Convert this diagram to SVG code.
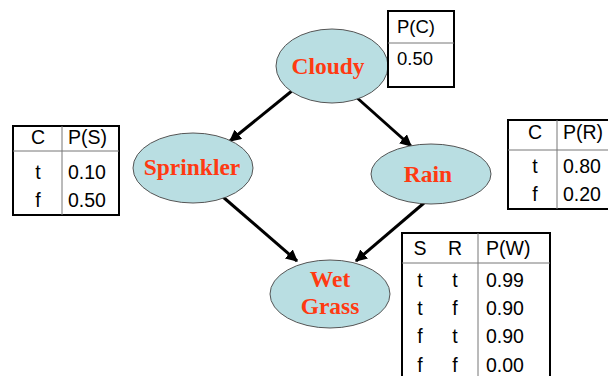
<svg xmlns="http://www.w3.org/2000/svg" width="608" height="376" viewBox="0 0 608 376">
<defs>
<marker id="ah" viewBox="0 0 10 10" refX="9" refY="5" markerWidth="4" markerHeight="4" orient="auto" markerUnits="strokeWidth">
<path d="M0,0 L10,5 L0,10 z" fill="#000"/>
</marker>
<style>
.node ellipse{fill:#B9DEE2;stroke:#555;stroke-width:1}
.node text{font-family:"Liberation Serif",serif;font-weight:bold;font-size:23.5px;fill:#FF3A12;text-anchor:middle}
.edge{stroke:#000;stroke-width:3;fill:none;marker-end:url(#ah)}
.tbl .outer{fill:#fff;stroke:#000;stroke-width:2}
.tbl line{stroke:#777;stroke-width:1}
.tbl text{font-family:"Liberation Sans",Arial,sans-serif;font-size:19.5px;fill:#000}
#table-pc text{font-size:18.5px}
.c{text-anchor:middle}
</style>
</defs>
<rect width="608" height="376" fill="#fff"/>
<g id="connectors">
<line class="edge" x1="293" y1="90" x2="230" y2="141"/>
<line class="edge" x1="355" y1="96" x2="411" y2="146"/>
<line class="edge" x1="223" y1="197" x2="297" y2="261"/>
<line class="edge" x1="424" y1="203" x2="356" y2="261"/>
</g>
<g id="cloudy" class="node">
<ellipse cx="332" cy="66" rx="56" ry="37"/>
<text x="328" y="74">Cloudy</text>
</g>
<g id="sprinkler" class="node">
<ellipse cx="193" cy="168" rx="60" ry="35"/>
<text x="192" y="175">Sprinkler</text>
</g>
<g id="rain" class="node">
<ellipse cx="431" cy="174" rx="60" ry="30"/>
<text x="428" y="182">Rain</text>
</g>
<g id="wetgrass" class="node">
<ellipse cx="330" cy="294" rx="60" ry="34"/>
<text x="330" y="287">Wet</text>
<text x="330" y="314">Grass</text>
</g>
<g id="table-pc" class="tbl">
<rect class="outer" x="388" y="11" width="66" height="76"/>
<line x1="388" y1="43" x2="454" y2="43"/>
<text x="397" y="33">P(C)</text>
<text x="397" y="65">0.50</text>
</g>
<g id="table-ps" class="tbl">
<rect class="outer" x="13" y="126" width="106" height="89"/>
<line x1="13" y1="151" x2="119" y2="151"/>
<line x1="62" y1="126" x2="62" y2="215"/>
<text class="c" x="38" y="144">C</text>
<text x="68" y="144">P(S)</text>
<text class="c" x="38" y="179">t</text>
<text x="68" y="179">0.10</text>
<text class="c" x="38" y="207">f</text>
<text x="68" y="207">0.50</text>
</g>
<g id="table-pr" class="tbl">
<rect class="outer" x="508" y="120" width="104" height="89"/>
<line x1="508" y1="150" x2="612" y2="150"/>
<line x1="557" y1="120" x2="557" y2="209"/>
<text class="c" x="535" y="139">C</text>
<text x="563" y="139">P(R)</text>
<text class="c" x="535" y="173">t</text>
<text x="563" y="173">0.80</text>
<text class="c" x="535" y="201">f</text>
<text x="563" y="201">0.20</text>
</g>
<g id="table-pw" class="tbl">
<rect class="outer" x="402" y="233" width="148" height="150"/>
<line x1="402" y1="263" x2="550" y2="263"/>
<line x1="478" y1="233" x2="478" y2="383"/>
<text class="c" x="420" y="255">S</text>
<text class="c" x="455" y="255">R</text>
<text x="486" y="255">P(W)</text>
<text class="c" x="420" y="287">t</text>
<text class="c" x="455" y="287">t</text>
<text x="486" y="287">0.99</text>
<text class="c" x="420" y="315">t</text>
<text class="c" x="455" y="315">f</text>
<text x="486" y="315">0.90</text>
<text class="c" x="420" y="343">f</text>
<text class="c" x="455" y="343">t</text>
<text x="486" y="343">0.90</text>
<text class="c" x="420" y="372">f</text>
<text class="c" x="455" y="372">f</text>
<text x="486" y="372">0.00</text>
</g>
</svg>
